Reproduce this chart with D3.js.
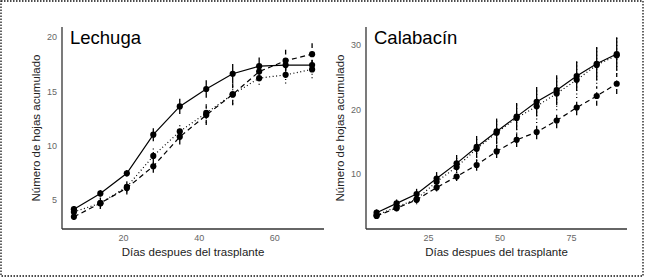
<!DOCTYPE html>
<html>
<head>
<meta charset="utf-8">
<script src="https://cdn.jsdelivr.net/npm/d3@7"></script>
<style>
  body { margin: 0; background: #fff; }
  svg text { font-family: "Liberation Sans", Arial, sans-serif; }
</style>
</head>
<body>
<div class="container"></div>
<script>
// Lechuga
const diasLechuga = [7, 14, 21, 28, 35, 42, 49, 56, 63, 70];
const lechugaSolid = [4.15, 5.6, 7.45, 11.0, 13.6, 15.2, 16.6, 17.3, 17.4, 17.4];
const lechugaSolidErr = [0.3, 0.3, 0.3, 0.6, 0.7, 0.8, 0.9, 0.8, 0.6, 0.5];
const lechugaDotted = [3.9, 4.7, 6.2, 9.05, 11.3, 13.0, 14.7, 16.2, 16.5, 17.0];
const lechugaDottedErr = [0.3, 0.5, 0.5, 0.7, 0.8, 0.9, 0.9, 0.6, 0.8, 0.8];
const lechugaDashed = [3.45, 4.7, 6.1, 8.1, 10.8, 12.8, 14.7, 16.8, 17.8, 18.4];
const lechugaDashedErr = [0.3, 0.5, 0.6, 0.6, 0.7, 0.9, 1.0, 0.8, 1.0, 1.0];
const lechugaTicksX = [20, 40, 60];
const lechugaTicksY = [5, 10, 15, 20];

// Calabacín
const diasCalabacin = [7, 14, 21, 28, 35, 42, 49, 56, 63, 70, 77, 84, 91];
const calSolid = [4.0, 5.45, 6.9, 9.3, 11.65, 14.2, 16.6, 18.9, 21.2, 23.0, 25.2, 27.1, 28.6];
const calSolidErr = [0.5, 0.6, 0.8, 1.0, 1.3, 1.7, 2.0, 2.1, 2.3, 2.3, 2.3, 2.6, 2.6];
const calDotted = [3.6, 4.9, 6.1, 8.8, 11.1, 13.9, 16.4, 18.7, 20.5, 22.5, 24.6, 26.9, 28.4];
const calDottedErr = [0.5, 0.6, 0.8, 1.1, 1.5, 1.9, 2.1, 2.4, 2.6, 2.6, 2.8, 2.9, 2.9];
const calDashed = [3.5, 4.7, 6.0, 7.9, 9.6, 11.4, 13.5, 15.3, 16.5, 18.3, 20.3, 22.1, 24.0];
const calDashedErr = [0.4, 0.5, 0.5, 0.6, 0.7, 0.9, 1.0, 1.1, 1.1, 1.2, 1.2, 1.5, 1.6];
const calTicksX = [25, 50, 75];
const calTicksY = [10, 20, 30];

const width = 645;
const height = 278;

const svg = d3
  .select('.container')
  .append('svg')
  .attr('width', width)
  .attr('height', height);

// outer dotted frame
svg
  .append('rect')
  .attr('x', 1)
  .attr('y', 1)
  .attr('width', 642)
  .attr('height', 275)
  .attr('fill', 'none')
  .attr('stroke', '#111')
  .attr('stroke-width', 1.3)
  .attr('stroke-dasharray', '1.5,1.5');

const styles = {
  solid: null,
  dotted: '1,2.5',
  dashed: '5,3.5'
};

const panel = (opt) => {
  const x = d3.scaleLinear().domain(opt.xDomain).range([opt.left, opt.right]);
  const y = d3.scaleLinear().domain(opt.yDomain).range([opt.bottom, opt.top]);
  const g = svg.append('g');

  const xAxis = g
    .append('g')
    .attr('transform', `translate(0,${opt.bottom})`)
    .call(d3.axisBottom(x).tickValues(opt.ticksX).tickSize(0).tickPadding(6));
  const yAxis = g
    .append('g')
    .attr('transform', `translate(${opt.left},0)`)
    .call(d3.axisLeft(y).tickValues(opt.ticksY).tickSize(0).tickPadding(5));

  [xAxis, yAxis].forEach((a) => {
    a.select('.domain').attr('stroke', '#333').attr('stroke-width', 1.3);
    a.selectAll('text').attr('fill', '#666').attr('font-size', 9);
  });
  yAxis.select('.domain').attr('d', `M0,${opt.bottom}V${opt.top}`);
  xAxis.select('.domain').attr('d', `M${opt.left},0H${opt.right}`);

  g.append('text')
    .attr('x', (opt.left + opt.right) / 2)
    .attr('y', opt.bottom + 27)
    .attr('text-anchor', 'middle')
    .attr('font-size', 11.5)
    .attr('fill', '#222')
    .text('Días despues del trasplante');

  g.append('text')
    .attr('transform', `translate(${opt.left - 22},${(opt.top + opt.bottom) / 2}) rotate(-90)`)
    .attr('text-anchor', 'middle')
    .attr('font-size', 11.5)
    .attr('fill', '#222')
    .text('Número de hojas acumulado');

  g.append('text')
    .attr('x', opt.left + 8)
    .attr('y', opt.top + 17)
    .attr('font-size', 18.5)
    .attr('fill', '#000')
    .text(opt.title);

  const line = d3
    .line()
    .x((d) => x(d.day))
    .y((d) => y(d.v));

  opt.series.forEach((s) => {
    const data = opt.days.map((day, i) => ({ day, v: s.values[i], e: s.err[i] }));
    const sg = g.append('g');
    sg.selectAll('line.err')
      .data(data)
      .join('line')
      .attr('class', 'err')
      .attr('x1', (d) => x(d.day))
      .attr('x2', (d) => x(d.day))
      .attr('y1', (d) => y(d.v - d.e))
      .attr('y2', (d) => y(d.v + d.e))
      .attr('stroke', '#000')
      .attr('stroke-width', 1.3)
      .attr('stroke-dasharray', styles[s.type]);
    sg.append('path')
      .datum(data)
      .attr('d', line)
      .attr('fill', 'none')
      .attr('stroke', '#000')
      .attr('stroke-width', 1.2)
      .attr('stroke-dasharray', styles[s.type]);
    sg.selectAll('circle')
      .data(data)
      .join('circle')
      .attr('cx', (d) => x(d.day))
      .attr('cy', (d) => y(d.v))
      .attr('r', 3.1)
      .attr('fill', '#000');
  });
};

panel({
  title: 'Lechuga',
  left: 62,
  right: 324,
  top: 27,
  bottom: 229,
  xDomain: [3.85, 73.15],
  yDomain: [2.33, 20.9],
  ticksX: lechugaTicksX,
  ticksY: lechugaTicksY,
  days: diasLechuga,
  series: [
    { type: 'solid', values: lechugaSolid, err: lechugaSolidErr },
    { type: 'dotted', values: lechugaDotted, err: lechugaDottedErr },
    { type: 'dashed', values: lechugaDashed, err: lechugaDashedErr }
  ]
});

panel({
  title: 'Calabacín',
  left: 366,
  right: 627,
  top: 27,
  bottom: 229,
  xDomain: [3.3, 94.6],
  yDomain: [1.47, 32.8],
  ticksX: calTicksX,
  ticksY: calTicksY,
  days: diasCalabacin,
  series: [
    { type: 'solid', values: calSolid, err: calSolidErr },
    { type: 'dotted', values: calDotted, err: calDottedErr },
    { type: 'dashed', values: calDashed, err: calDashedErr }
  ]
});
</script>
</body>
</html>
